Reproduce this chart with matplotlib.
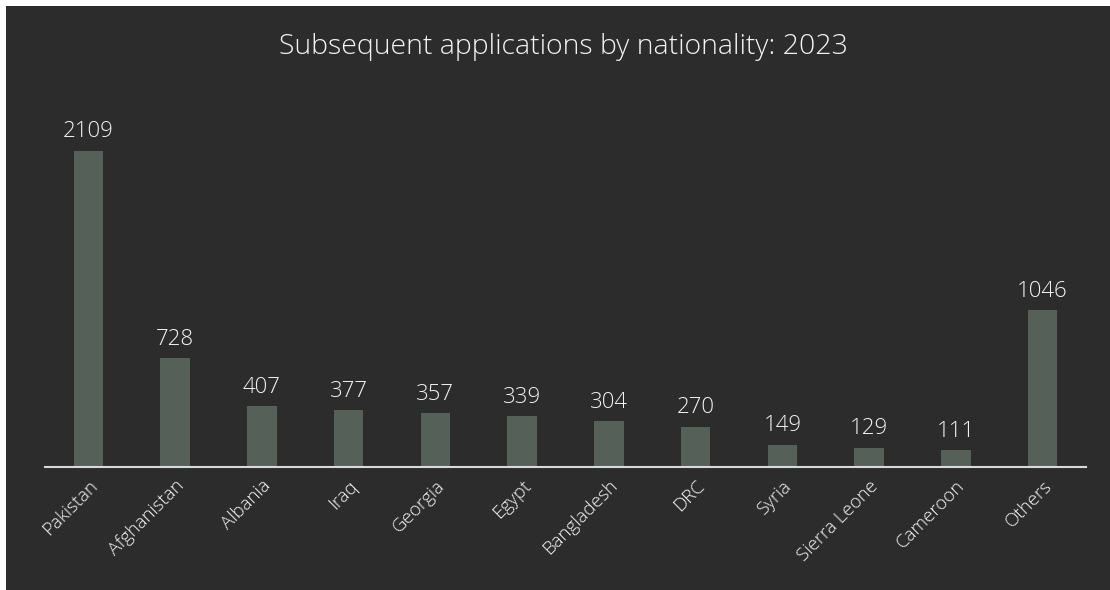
import matplotlib
matplotlib.use("Agg")
import matplotlib.pyplot as plt
from matplotlib.patches import Rectangle

countries = ["Pakistan", "Afghanistan", "Albania", "Iraq", "Georgia", "Egypt",
             "Bangladesh", "DRC", "Syria", "Sierra Leone", "Cameroon", "Others"]
applications = [2109, 728, 407, 377, 357, 339, 304, 270, 149, 129, 111, 1046]

BG = "#2c2c2c"
BAR = "#556158"
TEXT = "#f4f4f4"

plt.rcParams["font.family"] = ["Open Sans", "DejaVu Sans"]

fig = plt.figure(figsize=(11.1, 5.9), dpi=100, facecolor="white")
# dark panel with thin white margin at top and left
fig.patches.append(Rectangle((6 / 1110, 0), 1 - 6 / 1110, 1 - 6 / 590,
                             transform=fig.transFigure, facecolor=BG,
                             edgecolor="none", zorder=-10))

ax = fig.add_axes([45 / 1110, 123 / 590, 1041 / 1110, 375 / 590])
ax.set_facecolor("none")

x = range(len(countries))
ax.bar(x, applications, width=0.34, color=BAR, zorder=2)
for i, v in zip(x, applications):
    ax.text(i, v + 55, str(v), ha="center", va="bottom", color=TEXT,
            fontsize=16, fontweight="light")

ax.set_xlim(-0.5, len(countries) - 0.5)
ax.set_ylim(0, 2500)
ax.set_yticks([])
ax.set_xticks(list(x))
ax.set_xticklabels(countries, rotation=45, ha="right", rotation_mode="anchor",
                   color=TEXT, fontsize=13.5, fontweight="light")
ax.tick_params(axis="x", length=0, pad=7)
for side in ["top", "right", "left"]:
    ax.spines[side].set_visible(False)
ax.spines["bottom"].set_color("#d9d9d9")
ax.spines["bottom"].set_linewidth(1.5)

fig.text(563 / 1110, 1 - 47 / 590, "Subsequent applications by nationality: 2023",
         ha="center", va="center", color=TEXT, fontsize=20.5, fontweight="light")

fig.savefig("out.png", dpi=100, facecolor=fig.get_facecolor())
